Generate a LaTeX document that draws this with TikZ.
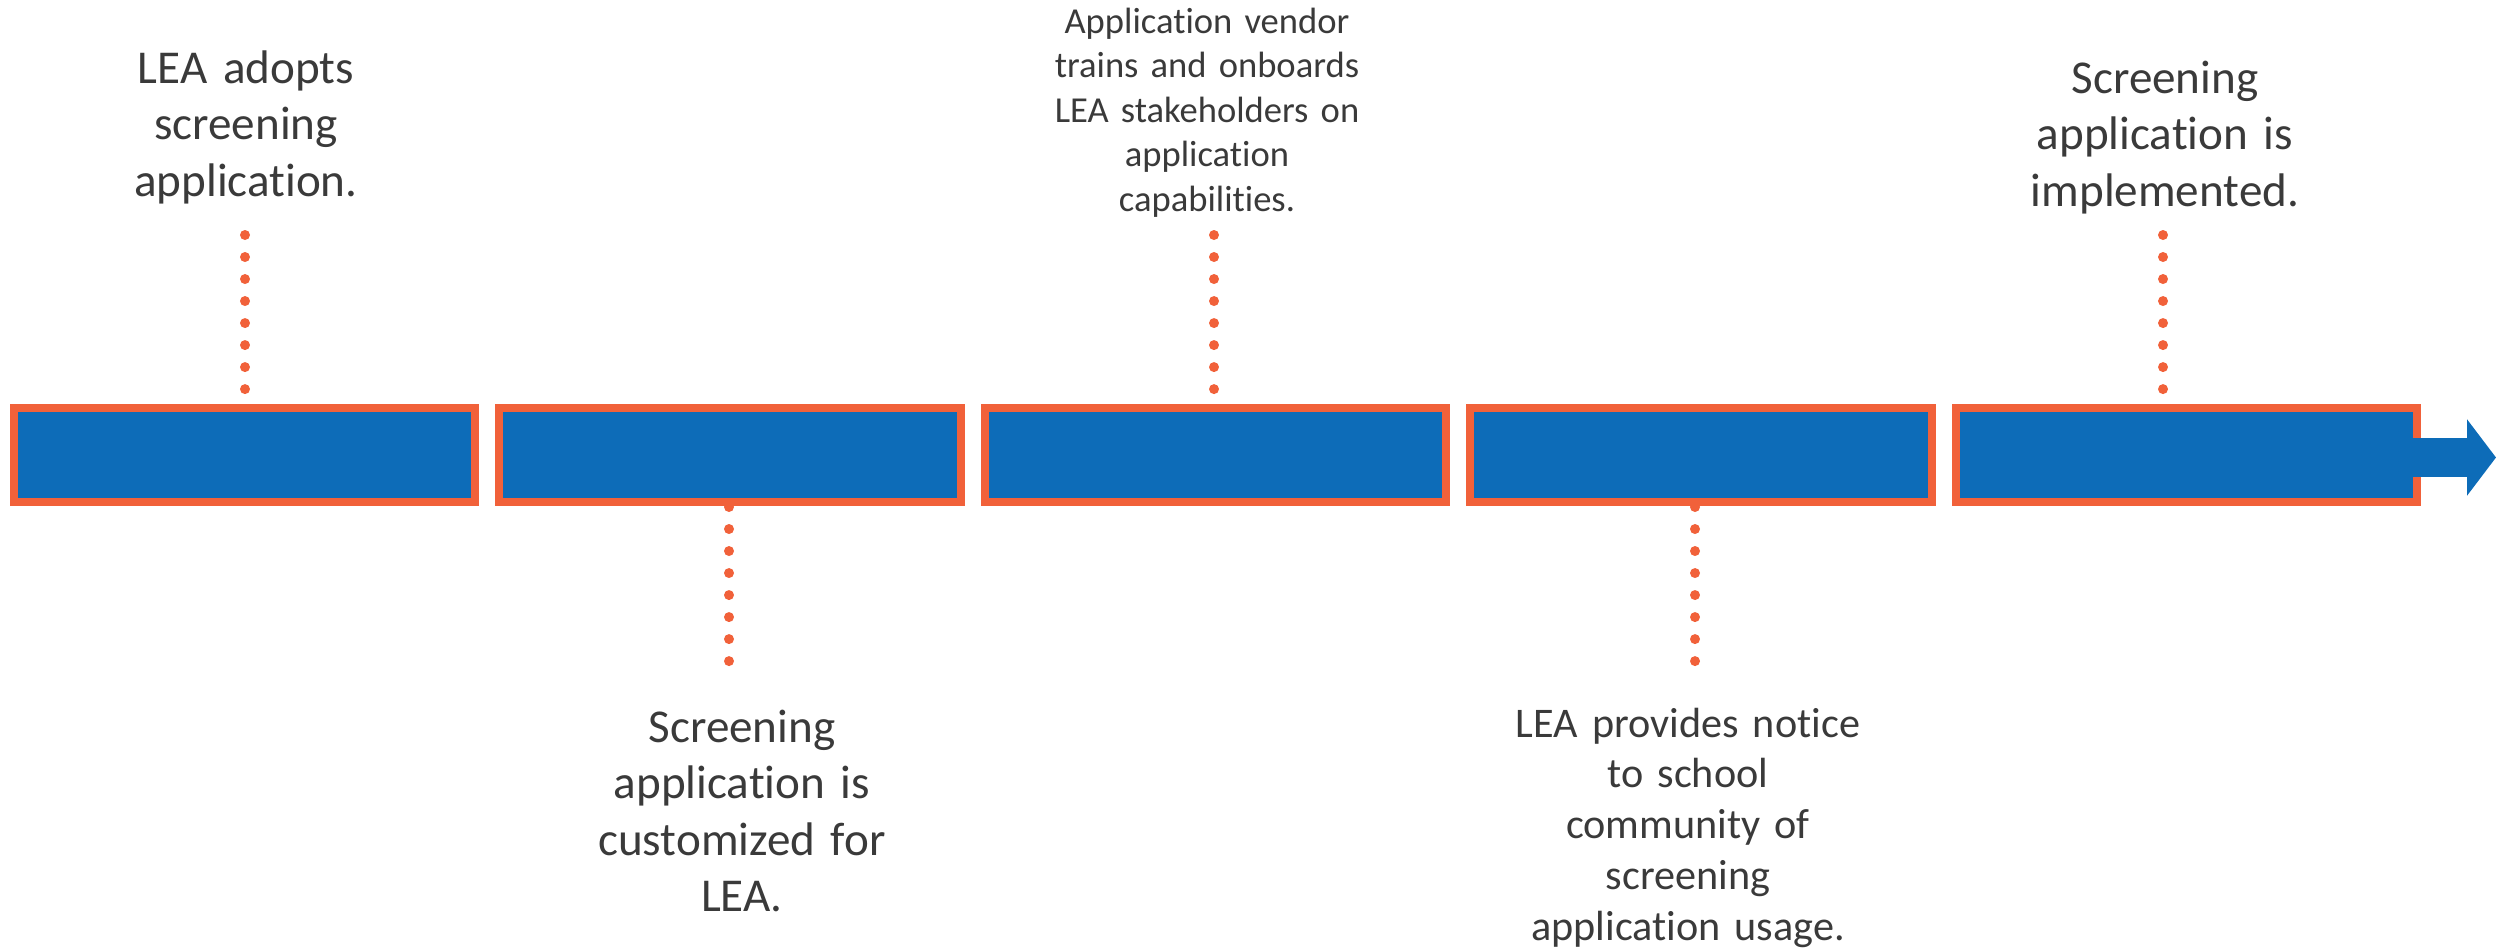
\documentclass[tikz,border=0pt]{standalone}
\usepackage{fontspec}
\setmainfont{Carlito}[Ligatures={NoCommon}]
\usetikzlibrary{arrows.meta}
\definecolor{segblue}{RGB}{13,108,184}
\definecolor{segorange}{RGB}{241,97,58}
\definecolor{txt}{RGB}{58,58,58}
\begin{document}
\begin{tikzpicture}[x=0.01cm, y=-0.01cm,
  seg/.style={rectangle, draw=segorange, fill=segblue, line width=0.08cm,
    minimum width=4.61cm, minimum height=0.94cm, inner sep=0pt},
  dotline/.style={segorange, line width=0.1cm, line cap=round, dash pattern=on 0pt off 0.22cm},
  lbl/.style={text=txt, text width=4.5cm, align=center, anchor=base, inner sep=0pt},
  bigfont/.style={font=\fontsize{13.4pt}{16.1pt}\selectfont},
  smallfont/.style={font=\fontsize{10.4pt}{12.66pt}\selectfont},
  midfont/.style={font=\fontsize{12pt}{14.44pt}\selectfont}
]
\useasboundingbox (0,0) rectangle (2496,951);

% arrow shaft and head (drawn first, box covers start)
\coordinate (as) at (2412,457.5);
\coordinate (tip) at (2496,457.5);
\draw[segblue, line width=0.39cm, -{Triangle[length=0.29cm, width=0.75cm]}] (as) -- (tip);

% segments
\node[seg] (b1) at (244.5,455) {};
\node[seg] (b2) at (730,455) {};
\node[seg] (b3) at (1215.5,455) {};
\node[seg] (b4) at (1701,455) {};
\node[seg] (b5) at (2186.5,455) {};

% shaft over right border of last segment
\coordinate (as2) at (2410,457.5);
\coordinate (ae) at (2430,457.5);
\draw[segblue, line width=0.39cm] (as2) -- (ae);

% labels
\node[lbl, bigfont] (t1) at (246,83) {LEA adopts\\screening\\application.};
\node[lbl, bigfont] (t2) at (742,742) {Screening\\application is\\customized for\\LEA.};
\node[lbl, smallfont] (t3) at (1207,33) {Application vendor\\trains and onboards\\LEA stakeholders on\\application\\capabilities.};
\node[lbl, midfont] (t4) at (1688,737) {LEA provides notice\\to school\\community of\\screening\\application usage.};
\node[lbl, bigfont] (t5) at (2165,93) {Screening\\application is\\implemented.};

% dotted connectors
\coordinate (d1) at (245,235);
\coordinate (d3) at (1214,235);
\coordinate (d5) at (2163,235);
\draw[dotline] (d1) -- (d1 |- b1.north);
\draw[dotline] (d3) -- (d3 |- b3.north);
\draw[dotline] (d5) -- (d5 |- b5.north);
\coordinate (d2) at (729,507);
\coordinate (d4) at (1695,507);
\coordinate (d2e) at (729,663);
\coordinate (d4e) at (1695,663);
\draw[dotline] (d2) -- (d2e);
\draw[dotline] (d4) -- (d4e);
\end{tikzpicture}
\end{document}
